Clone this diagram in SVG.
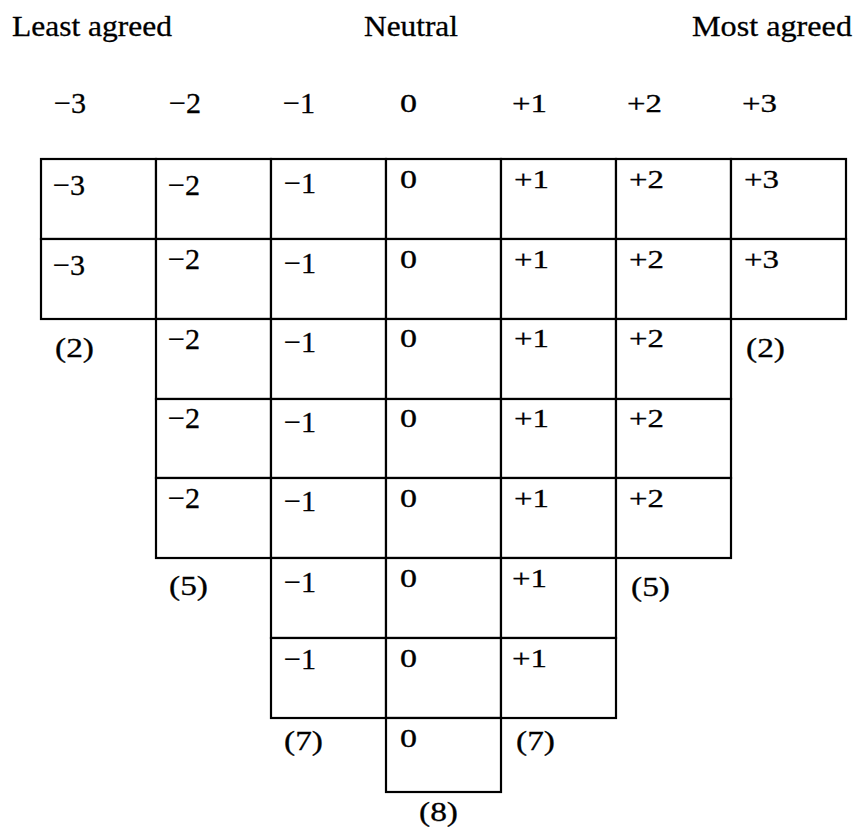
<svg xmlns="http://www.w3.org/2000/svg" width="856" height="828" viewBox="0 0 856 828">
<style>
text{font-family:"Liberation Serif","Times New Roman",serif;fill:#000;stroke:#000;stroke-width:0.3}
.h{font-size:30px}
.m{font-size:30px}
.p{font-size:25px}
.c{font-size:28px}
rect.cell{fill:#fff;stroke:#000;stroke-width:2.2}
</style>
<rect width="856" height="828" fill="#fff"/>
<g id="headers">
<text class="h" x="12" y="36" textLength="160" lengthAdjust="spacingAndGlyphs">Least agreed</text>
<text class="h" x="364" y="36" textLength="94" lengthAdjust="spacingAndGlyphs">Neutral</text>
<text class="h" x="692" y="36" textLength="160" lengthAdjust="spacingAndGlyphs">Most agreed</text>
</g>
<g id="scale">
<text class="m" x="54" y="113" textLength="32" lengthAdjust="spacingAndGlyphs">−3</text>
<text class="m" x="169" y="113" textLength="32" lengthAdjust="spacingAndGlyphs">−2</text>
<text class="m" x="283" y="113" textLength="32" lengthAdjust="spacingAndGlyphs">−1</text>
<text class="p" x="400" y="112" textLength="17" lengthAdjust="spacingAndGlyphs">0</text>
<text class="p" x="512" y="112" textLength="35" lengthAdjust="spacingAndGlyphs">+1</text>
<text class="p" x="627" y="112" textLength="35" lengthAdjust="spacingAndGlyphs">+2</text>
<text class="p" x="742" y="112" textLength="35" lengthAdjust="spacingAndGlyphs">+3</text>
</g>
<g id="col-m3">
<rect class="cell" x="41" y="159" width="115" height="80"/>
<rect class="cell" x="41" y="239" width="115" height="80"/>
<text class="m" x="53" y="195" textLength="32" lengthAdjust="spacingAndGlyphs">−3</text>
<text class="m" x="53" y="275" textLength="32" lengthAdjust="spacingAndGlyphs">−3</text>
<text class="c" x="55" y="357" textLength="39" lengthAdjust="spacingAndGlyphs">(2)</text>
</g>
<g id="col-m2">
<rect class="cell" x="156" y="159" width="115" height="80"/>
<rect class="cell" x="156" y="239" width="115" height="80"/>
<rect class="cell" x="156" y="319" width="115" height="80"/>
<rect class="cell" x="156" y="399" width="115" height="79"/>
<rect class="cell" x="156" y="478" width="115" height="80"/>
<text class="m" x="168" y="195" textLength="32" lengthAdjust="spacingAndGlyphs">−2</text>
<text class="m" x="168" y="269" textLength="32" lengthAdjust="spacingAndGlyphs">−2</text>
<text class="m" x="168" y="349" textLength="32" lengthAdjust="spacingAndGlyphs">−2</text>
<text class="m" x="168" y="428" textLength="32" lengthAdjust="spacingAndGlyphs">−2</text>
<text class="m" x="168" y="508" textLength="32" lengthAdjust="spacingAndGlyphs">−2</text>
<text class="c" x="169" y="595" textLength="39" lengthAdjust="spacingAndGlyphs">(5)</text>
</g>
<g id="col-m1">
<rect class="cell" x="271" y="159" width="115" height="80"/>
<rect class="cell" x="271" y="239" width="115" height="80"/>
<rect class="cell" x="271" y="319" width="115" height="80"/>
<rect class="cell" x="271" y="399" width="115" height="79"/>
<rect class="cell" x="271" y="478" width="115" height="80"/>
<rect class="cell" x="271" y="558" width="115" height="80"/>
<rect class="cell" x="271" y="638" width="115" height="80"/>
<text class="m" x="284" y="193" textLength="32" lengthAdjust="spacingAndGlyphs">−1</text>
<text class="m" x="284" y="273" textLength="32" lengthAdjust="spacingAndGlyphs">−1</text>
<text class="m" x="284" y="352" textLength="32" lengthAdjust="spacingAndGlyphs">−1</text>
<text class="m" x="284" y="432" textLength="32" lengthAdjust="spacingAndGlyphs">−1</text>
<text class="m" x="284" y="511" textLength="32" lengthAdjust="spacingAndGlyphs">−1</text>
<text class="m" x="284" y="592" textLength="32" lengthAdjust="spacingAndGlyphs">−1</text>
<text class="m" x="284" y="669" textLength="32" lengthAdjust="spacingAndGlyphs">−1</text>
<text class="c" x="284" y="750" textLength="39" lengthAdjust="spacingAndGlyphs">(7)</text>
</g>
<g id="col-0">
<rect class="cell" x="386" y="159" width="115" height="80"/>
<rect class="cell" x="386" y="239" width="115" height="80"/>
<rect class="cell" x="386" y="319" width="115" height="80"/>
<rect class="cell" x="386" y="399" width="115" height="79"/>
<rect class="cell" x="386" y="478" width="115" height="80"/>
<rect class="cell" x="386" y="558" width="115" height="80"/>
<rect class="cell" x="386" y="638" width="115" height="80"/>
<rect class="cell" x="386" y="718" width="115" height="74"/>
<text class="p" x="400" y="188" textLength="17" lengthAdjust="spacingAndGlyphs">0</text>
<text class="p" x="400" y="268" textLength="17" lengthAdjust="spacingAndGlyphs">0</text>
<text class="p" x="400" y="347" textLength="17" lengthAdjust="spacingAndGlyphs">0</text>
<text class="p" x="400" y="427" textLength="17" lengthAdjust="spacingAndGlyphs">0</text>
<text class="p" x="400" y="507" textLength="17" lengthAdjust="spacingAndGlyphs">0</text>
<text class="p" x="400" y="587" textLength="17" lengthAdjust="spacingAndGlyphs">0</text>
<text class="p" x="400" y="667" textLength="17" lengthAdjust="spacingAndGlyphs">0</text>
<text class="p" x="400" y="747" textLength="17" lengthAdjust="spacingAndGlyphs">0</text>
<text class="c" x="419" y="821" textLength="39" lengthAdjust="spacingAndGlyphs">(8)</text>
</g>
<g id="col-p1">
<rect class="cell" x="501" y="159" width="115" height="80"/>
<rect class="cell" x="501" y="239" width="115" height="80"/>
<rect class="cell" x="501" y="319" width="115" height="80"/>
<rect class="cell" x="501" y="399" width="115" height="79"/>
<rect class="cell" x="501" y="478" width="115" height="80"/>
<rect class="cell" x="501" y="558" width="115" height="80"/>
<rect class="cell" x="501" y="638" width="115" height="80"/>
<text class="p" x="514" y="188" textLength="35" lengthAdjust="spacingAndGlyphs">+1</text>
<text class="p" x="514" y="268" textLength="35" lengthAdjust="spacingAndGlyphs">+1</text>
<text class="p" x="514" y="347" textLength="35" lengthAdjust="spacingAndGlyphs">+1</text>
<text class="p" x="514" y="427" textLength="35" lengthAdjust="spacingAndGlyphs">+1</text>
<text class="p" x="514" y="507" textLength="35" lengthAdjust="spacingAndGlyphs">+1</text>
<text class="p" x="512" y="587" textLength="35" lengthAdjust="spacingAndGlyphs">+1</text>
<text class="p" x="512" y="667" textLength="35" lengthAdjust="spacingAndGlyphs">+1</text>
<text class="c" x="516" y="750" textLength="39" lengthAdjust="spacingAndGlyphs">(7)</text>
</g>
<g id="col-p2">
<rect class="cell" x="616" y="159" width="115" height="80"/>
<rect class="cell" x="616" y="239" width="115" height="80"/>
<rect class="cell" x="616" y="319" width="115" height="80"/>
<rect class="cell" x="616" y="399" width="115" height="79"/>
<rect class="cell" x="616" y="478" width="115" height="80"/>
<text class="p" x="629" y="188" textLength="35" lengthAdjust="spacingAndGlyphs">+2</text>
<text class="p" x="629" y="268" textLength="35" lengthAdjust="spacingAndGlyphs">+2</text>
<text class="p" x="629" y="347" textLength="35" lengthAdjust="spacingAndGlyphs">+2</text>
<text class="p" x="629" y="427" textLength="35" lengthAdjust="spacingAndGlyphs">+2</text>
<text class="p" x="629" y="507" textLength="35" lengthAdjust="spacingAndGlyphs">+2</text>
<text class="c" x="631" y="596" textLength="39" lengthAdjust="spacingAndGlyphs">(5)</text>
</g>
<g id="col-p3">
<rect class="cell" x="731" y="159" width="115" height="80"/>
<rect class="cell" x="731" y="239" width="115" height="80"/>
<text class="p" x="744" y="188" textLength="35" lengthAdjust="spacingAndGlyphs">+3</text>
<text class="p" x="744" y="268" textLength="35" lengthAdjust="spacingAndGlyphs">+3</text>
<text class="c" x="746" y="357" textLength="39" lengthAdjust="spacingAndGlyphs">(2)</text>
</g>
<g id="connectors"/>
</svg>
